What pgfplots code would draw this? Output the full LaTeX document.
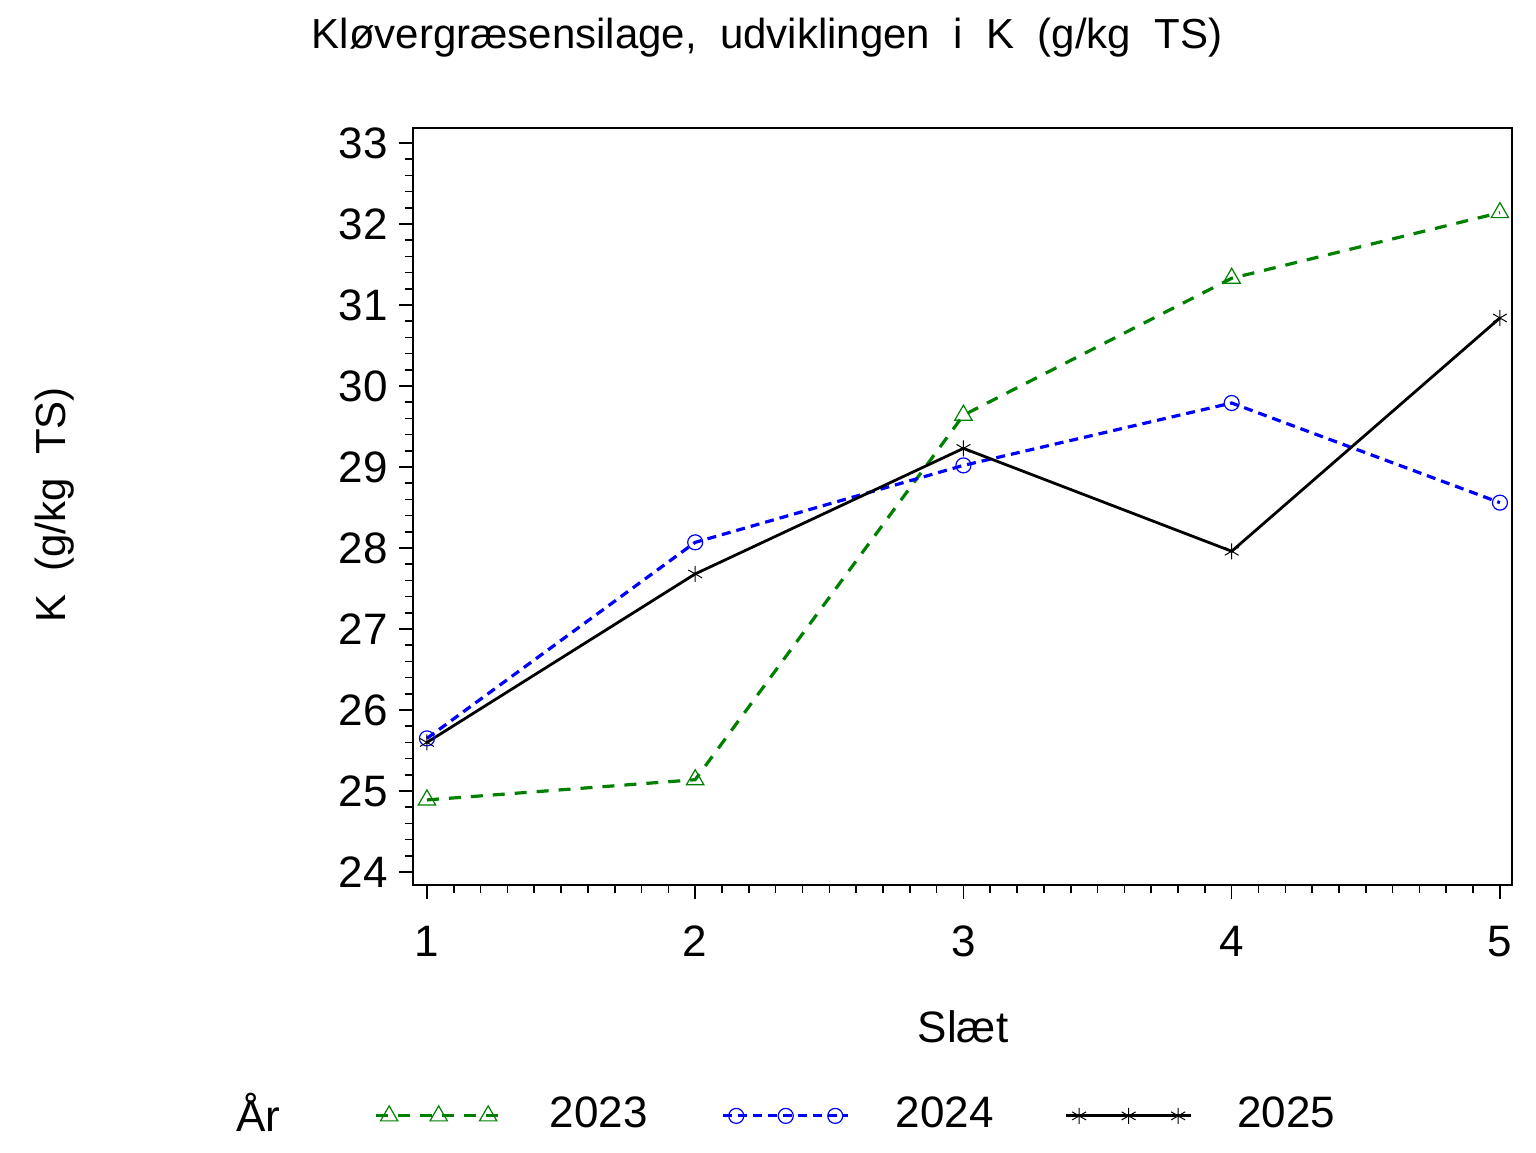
\documentclass[border=0pt]{standalone}
\usepackage{fontspec}
\setmainfont{Liberation Sans}
\usepackage{pgfplots}
\pgfplotsset{compat=1.18}
\definecolor{sasgreen}{RGB}{0,128,0}
\definecolor{sasblue}{RGB}{0,0,255}
\begin{document}
\fontsize{22}{26}\selectfont
\begin{tikzpicture}
\path (-206.5pt,-133.5pt) rectangle ++(768pt,576pt);
\begin{axis}[
  at={(0,0)}, anchor=south west,
  scale only axis, width=549.5pt, height=378.5pt,
  xmin=0.948, xmax=5.045, ymin=23.84, ymax=33.185,
  xtick={1,2,3,4,5}, ytick={24,25,...,33},
  minor x tick num=9, minor y tick num=4,
  tick align=outside, xtick pos=left, ytick pos=left,
  major tick length=7pt, minor tick length=4pt,
  every tick/.style={black, line width=0.8pt},
  axis line style={line width=0.9pt},
  /pgf/number format/assume math mode=true,
  ticklabel style={font=\fontsize{22}{26}\selectfont},
  xticklabel style={yshift=-6pt},
  yticklabel style={xshift=2pt},
  legend columns=4,
  legend style={draw=none, fill=none, at={(-0.170,-0.305)}, anchor=west,
    font=\fontsize{22}{26}\selectfont,
    /tikz/column 2/.style={column sep=45pt},
    /tikz/column 3/.style={column sep=21.5pt},
    /tikz/column 4/.style={column sep=35pt},
    /tikz/column 5/.style={column sep=21pt},
    /tikz/column 6/.style={column sep=33.5pt},
    /tikz/column 7/.style={column sep=20.5pt}},
  legend cell align=left,
  legend image code/.code={\draw[#1,mark=none] (0pt,0pt) -- (62.5pt,0pt);
    \draw[#1] plot[only marks] coordinates {(6.5pt,0pt) (31.25pt,0pt) (56pt,0pt)};},
]
\addlegendimage{empty legend}
\addlegendentry{År}
\addplot[sasgreen, line width=1.6pt, dash pattern=on 6pt off 5pt, mark=triangle, mark size=5pt, mark options={solid, line width=0.6pt}] coordinates {
 (1,24.89) (2,25.14) (3,29.64) (4,31.33) (5,32.14)};
\addlegendentry{2023}
\addplot[sasblue, line width=1.6pt, dash pattern=on 4.5pt off 3pt, mark=o, mark size=3.75pt, mark options={solid, line width=0.6pt}] coordinates {
 (1,25.65) (2,28.07) (3,29.02) (4,29.79) (5,28.56)};
\addlegendentry{2024}
\addplot[black, line width=1.4pt, mark=asterisk, mark size=4pt, mark options={solid, line width=0.5pt}] coordinates {
 (1,25.60) (2,27.68) (3,29.23) (4,27.96) (5,30.84)};
\addlegendentry{2025}
\end{axis}
\node[font=\fontsize{21}{25}\selectfont] at (177pt,423.5pt) {Kløvergræsensilage,\ \ udviklingen\ \ i\ \ K\ \ (g/kg\ \ TS)};
\node[rotate=90, font=\fontsize{21}{25}\selectfont] at (-179pt,190pt) {K\ \ (g/kg\ \ TS)};
\node at (275pt,-71pt) {Slæt};
\end{tikzpicture}
\end{document}
